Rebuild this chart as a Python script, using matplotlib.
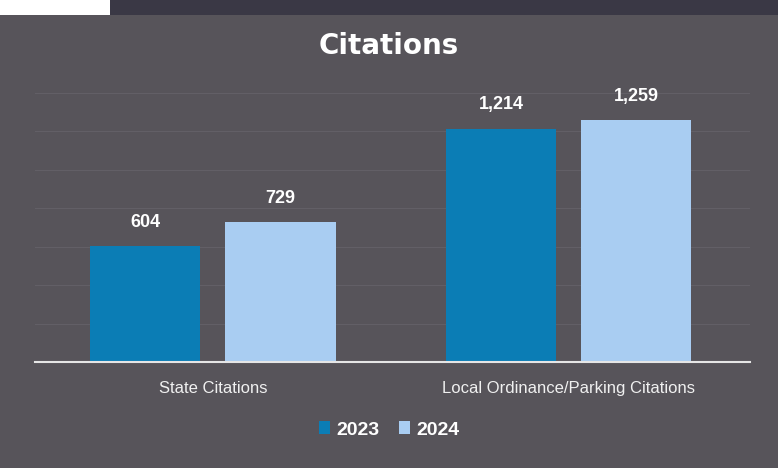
import matplotlib
matplotlib.use("Agg")
import matplotlib.pyplot as plt
import numpy as np
from matplotlib.patches import Rectangle

categories = ["State Citations", "Local Ordinance/Parking Citations"]
series_names = ["2023", "2024"]
values_2023 = [604, 1214]
values_2024 = [729, 1259]
value_labels_2023 = ["604", "1,214"]
value_labels_2024 = ["729", "1,259"]
title = "Citations"

BG = "#57545a"
C2023 = "#0b7db5"
C2024 = "#a9cdf2"
GRID = "#625f66"

fig = plt.figure(figsize=(7.78, 4.68), dpi=100)
fig.patch.set_facecolor(BG)

# photo edges (dark strip top)
fig.add_artist(Rectangle((0, 1 - 15 / 468), 1, 15 / 468, transform=fig.transFigure,
                         facecolor="#3a3845", edgecolor="none", zorder=0))
fig.add_artist(Rectangle((0, 1 - 15 / 468), 110 / 778, 15 / 468, transform=fig.transFigure,
                         facecolor="white", edgecolor="none", zorder=1))

ax = fig.add_axes([35 / 778, 1 - 362 / 468, 715 / 778, (362 - 93) / 468])
ax.set_facecolor(BG)

x = np.arange(len(categories))
off = 0.19
w = 0.31
b1 = ax.bar(x - off, values_2023, w, color=C2023, label=series_names[0], zorder=3)
b2 = ax.bar(x + off, values_2024, w, color=C2024, label=series_names[1], zorder=3)

for bars, labels in ((b1, value_labels_2023), (b2, value_labels_2024)):
    for rect, lab in zip(bars, labels):
        ax.annotate(lab, (rect.get_x() + rect.get_width() / 2, rect.get_height()),
                    xytext=(0, 11), textcoords="offset points", ha="center", va="bottom",
                    color="white", fontsize=13, fontweight="bold", family="Liberation Sans")

ax.set_xlim(-0.5, 1.51)
ax.set_ylim(0, 1400)
ax.set_yticks(np.arange(0, 1401, 200))
ax.yaxis.grid(True, color=GRID, linewidth=0.8, zorder=0)
ax.tick_params(axis="y", left=False, labelleft=False)
ax.tick_params(axis="x", bottom=False, colors="white", pad=10)
ax.set_xticks(x)
ax.set_xticklabels(categories, fontsize=12, color="#f0f0f0", family="Liberation Sans")
for s in ["top", "left", "right"]:
    ax.spines[s].set_visible(False)
ax.spines["bottom"].set_color("#e6e6e6")
ax.spines["bottom"].set_linewidth(1.5)
ax.spines["bottom"].set_zorder(4)

fig.text(0.5, 1 - 46 / 468, title, ha="center", va="center", color="white",
         fontsize=20, fontweight="bold", family="DejaVu Sans")

leg = fig.legend(handles=[b1, b2], labels=series_names, loc="center",
                 bbox_to_anchor=(0.5, 1 - 430 / 468), ncol=2, frameon=False,
                 handlelength=0.6, handleheight=0.6, handletextpad=0.3, columnspacing=1.0,
                 prop={"family": "Liberation Sans", "weight": "bold", "size": 14})
for t in leg.get_texts():
    t.set_color("white")

fig.savefig("out.png", dpi=100, facecolor=fig.get_facecolor())
